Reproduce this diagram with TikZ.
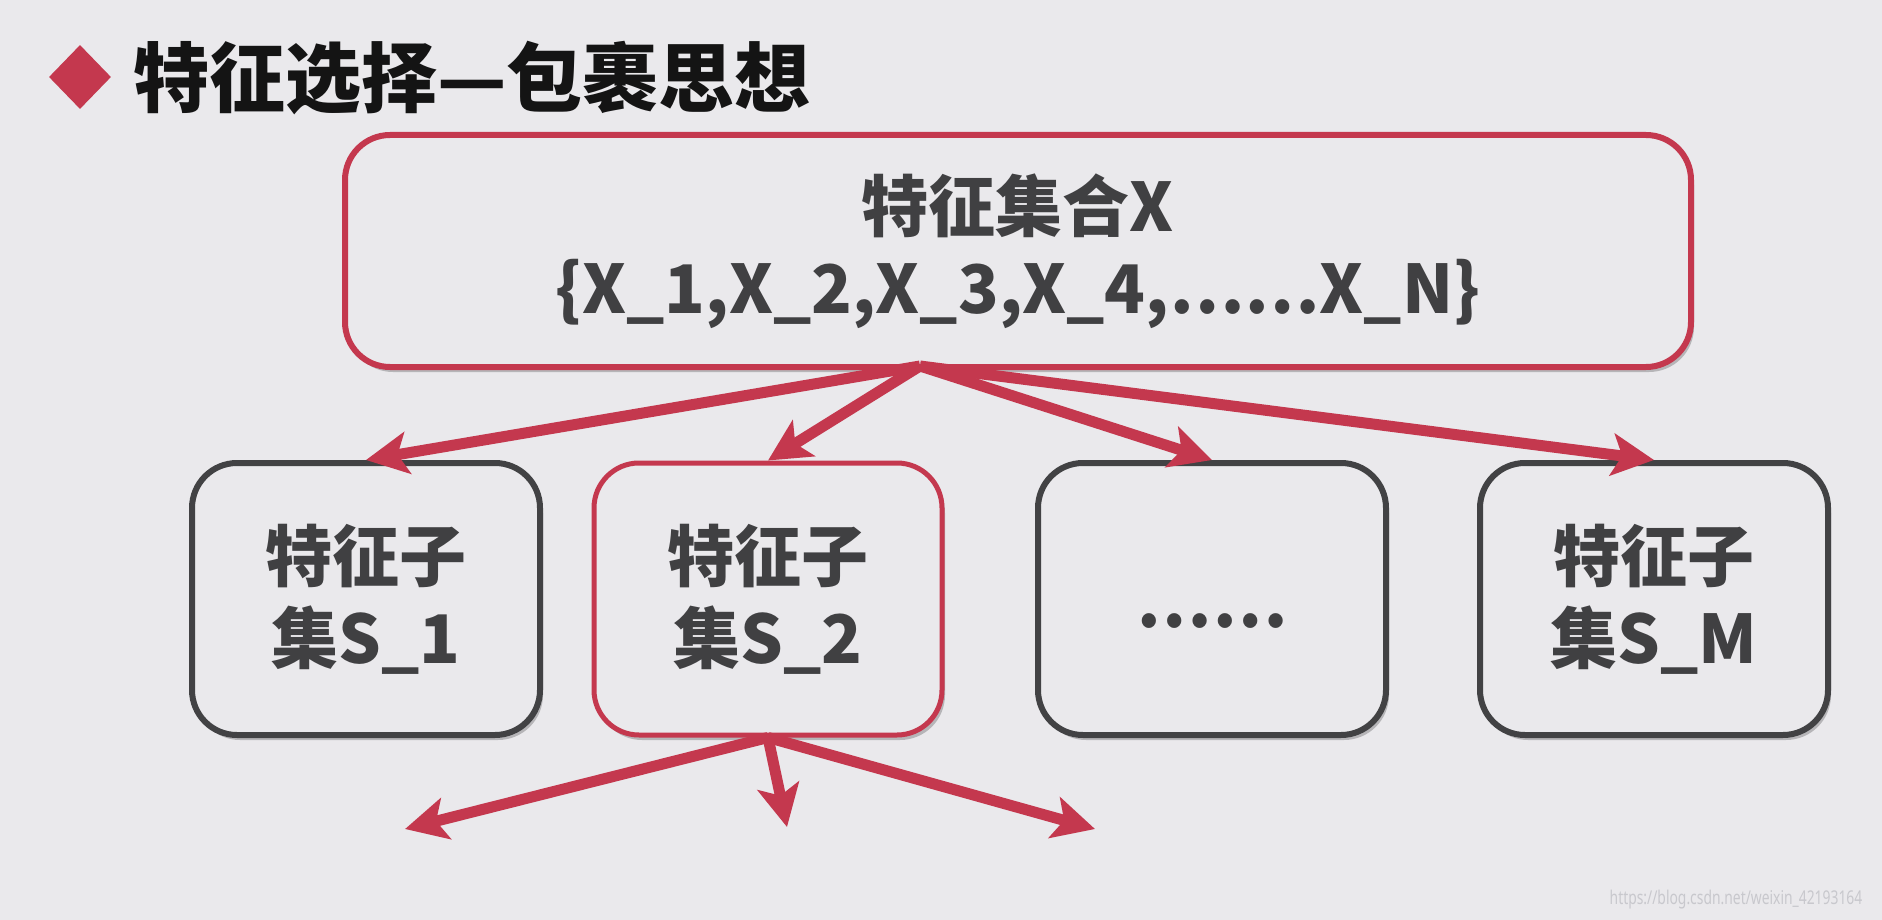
\documentclass[tikz,border=0pt]{standalone}
\usepackage{fontspec}
\setmainfont{Noto Sans CJK SC}
\newfontfamily\wmfont{Noto Sans}
\usetikzlibrary{shapes.geometric,arrows.meta,shadows}
\definecolor{bgc}{RGB}{234,233,236}
\definecolor{redc}{RGB}{196,56,78}
\definecolor{grayc}{RGB}{66,66,68}
\definecolor{txtc}{RGB}{64,64,66}
\definecolor{titlec}{RGB}{20,20,20}
\definecolor{wmc}{RGB}{200,200,205}
\begin{document}
\begin{tikzpicture}[x=1pt,y=-1pt,
  boxbase/.style={rounded corners=45pt, fill=bgc, inner sep=0pt, align=center,
    text=txtc, font=\bfseries\fontsize{67}{82}\selectfont,
    drop shadow={shadow xshift=3pt,shadow yshift=-5pt,opacity=0.22,fill=black}},
  bigbox/.style={boxbase, draw=redc, line width=6pt, minimum width=1346pt, minimum height=232pt,
    font=\bfseries\fontsize{67}{82}\selectfont},
  subbox/.style={boxbase, draw=grayc, line width=6pt, minimum width=348pt, minimum height=272pt},
  selbox/.style={subbox, draw=redc, line width=5pt},
  arr/.style={draw=redc, line width=11pt, line cap=butt,
    -{Stealth[length=42pt,width=42pt,inset=10pt]}}
]
\fill[bgc] (0,0) rectangle (1882,920);
\useasboundingbox (0,0) rectangle (1882,920);

% title
\node[diamond, fill=redc, minimum width=62pt, minimum height=64pt, inner sep=0pt] (dia) at (80,77) {};
\node[anchor=west, inner sep=0pt, text=titlec, font=\bfseries\fontsize{76}{80}\selectfont] (title) at (133,78) {特征选择—包裹思想};

% boxes
\node[bigbox] (X) at (1018,251) {特征集合X\\\{X\_1,X\_2,X\_3,X\_4,……X\_N\}};
\node[subbox] (s1) at (366,599) {特征子\\集S\_1};
\node[selbox] (s2) at (768,599) {特征子\\集S\_2};
\node[subbox, text height=56pt, text depth=0pt] (s3) at (1212,599) {\smash{……}};
\node[subbox] (sm) at (1654,599) {特征子\\集S\_M};

% arrows from X
\coordinate (xs) at (920,366);
\draw[arr] (xs) -- (s1.north);
\draw[arr] (xs) -- (s2.north);
\draw[arr] (xs) -- (s3.north);
\draw[arr] (xs) -- (sm.north);

% arrows from S_2
\coordinate (t1) at (405,829);
\coordinate (t2) at (787,827);
\coordinate (t3) at (1095,829);
\draw[arr] (s2.south) -- (t1);
\draw[arr] (s2.south) -- (t2);
\draw[arr] (s2.south) -- (t3);

% watermark
\node[inner sep=0pt, text=wmc, xscale=0.73, font=\wmfont\fontsize{19}{20}\selectfont] (wm) at (1736,900) {https://blog.csdn.net/weixin\_42193164};
\end{tikzpicture}
\end{document}
